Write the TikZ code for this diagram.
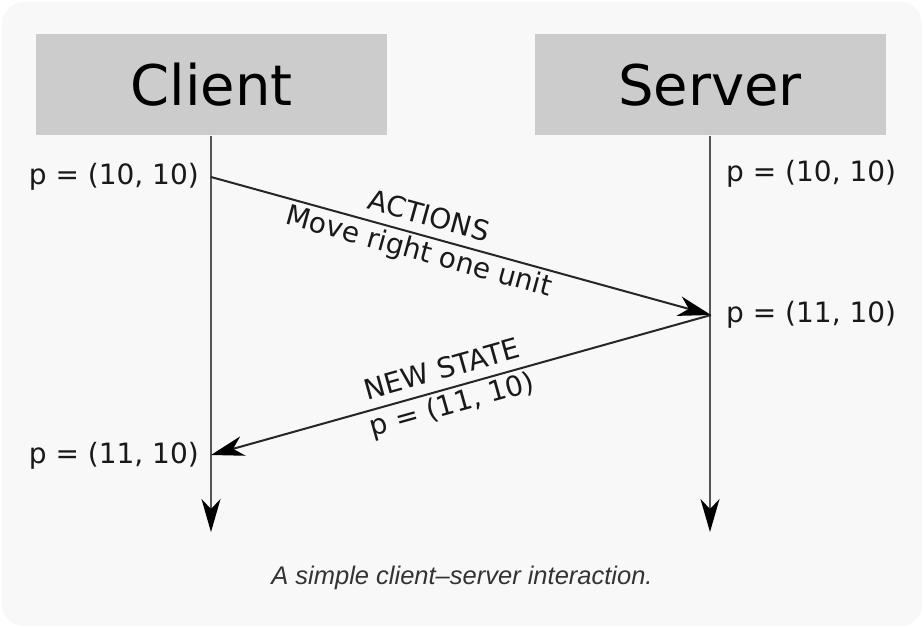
\documentclass[tikz,border=0pt]{standalone}
\usepackage{fontspec}
\setmainfont{DejaVu Sans}
\newfontfamily\capfont{Liberation Sans}
\usetikzlibrary{arrows.meta}
\definecolor{panel}{HTML}{F8F8F8}
\definecolor{boxgray}{HTML}{CCCCCC}
\definecolor{lifegray}{HTML}{555555}
\definecolor{capgray}{HTML}{333333}
\tikzset{
  x=1pt, y=-1pt,
  header/.style={fill=boxgray, draw=none, minimum width=351pt, minimum height=101pt, inner sep=0pt,
    font=\fontsize{56}{62}\selectfont, text=black},
  lbl/.style={inner sep=0pt, font=\fontsize{28}{32}\selectfont, text=black!90},
  msglbl/.style={inner sep=0pt, align=center, sloped, font=\fontsize{28}{36}\selectfont, text=black!90},
  life/.style={draw=lifegray, line width=2pt, -{Stealth[length=33pt, width=19pt, inset=10pt, color=black]}},
  msg/.style={draw=black!85, line width=2pt, -{Stealth[length=33pt, width=20pt, inset=10pt, color=black]}},
}
\begin{document}
\begin{tikzpicture}
\fill[white] (0,0) rectangle (924,628);
\useasboundingbox (0,0) rectangle (924,628);
\fill[panel, rounded corners=22pt] (2,2) rectangle (922,626);
\node[header] (cbox) at (211.5,85) {Client};
\node[header] (sbox) at (710,85) {Server};
\coordinate (c1) at (211,177);
\coordinate (s1) at (711,315);
\coordinate (c2) at (211,455);
\coordinate (cend) at (211,532);
\coordinate (send) at (710,532);
\draw[life] (cbox.south -| c1) -- (cend);
\draw[life] (sbox.south -| send) -- (send);
\draw[msg] (c1) -- node[msglbl, pos=0.425] (m1) {ACTIONS\\Move right one unit} (s1);
\draw[msg] (s1) -- node[msglbl, pos=0.527] (m2) {NEW STATE\\p = (11, 10)} (c2);
\node[lbl, anchor=east] (lc1) at (199,177) {p = (10, 10)};
\node[lbl, anchor=east] (lc2) at (199,456) {p = (11, 10)};
\node[lbl, anchor=west] (ls0) at (726,174) {p = (10, 10)};
\node[lbl, anchor=west] (ls1) at (726,315) {p = (11, 10)};
\node[inner sep=0pt, text=capgray, font=\capfont\itshape\fontsize{25.5}{29}\selectfont] (cap) at (462,578) {A simple client–server interaction.};
\end{tikzpicture}
\end{document}
